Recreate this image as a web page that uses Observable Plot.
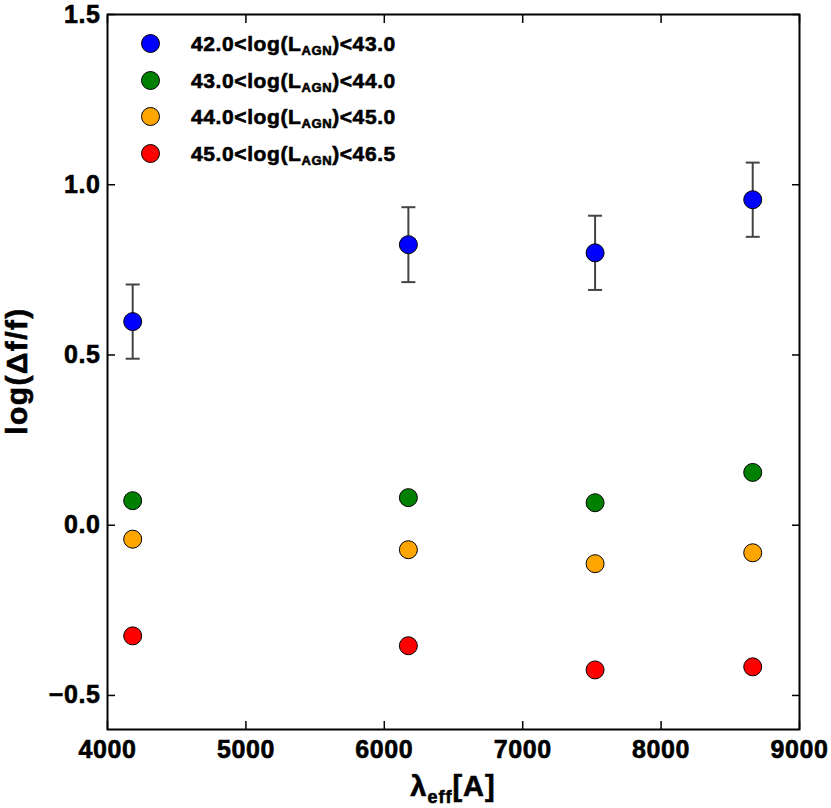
<!DOCTYPE html>
<html>
<head>
<meta charset="utf-8">
<script src="https://cdn.jsdelivr.net/npm/d3@7"></script>
<script src="https://cdn.jsdelivr.net/npm/@observablehq/plot@0.6"></script>
<style>
  html, body { margin: 0; padding: 0; background: white; }
  #wrap { position: relative; width: 831px; height: 808px; font-family: "Liberation Sans", Arial, sans-serif; font-weight: bold; color: black; }
  #wrap svg text { stroke: black; stroke-width: 0.6px; }
  .ov { position: absolute; white-space: nowrap; line-height: 1; -webkit-text-stroke: 0.6px black; }
  .legdot { position: absolute; width: 19px; height: 19px; box-sizing: border-box; border: 1px solid black; border-radius: 50%; }
</style>
</head>
<body>
<div id="wrap"></div>
<script>
// ---- data ----
const lambdaEff = [4182, 6174, 7523, 8662];
const blueVals = [0.598, 0.824, 0.800, 0.956];
const blueErr = [0.109, 0.110, 0.109, 0.109];
const greenVals = [0.072, 0.081, 0.066, 0.155];
const orangeVals = [-0.041, -0.072, -0.113, -0.081];
const redVals = [-0.325, -0.354, -0.425, -0.416];
const lowBounds = ["42.0", "43.0", "44.0", "45.0"];
const highBounds = ["43.0", "44.0", "45.0", "46.5"];
const seriesColors = ["#0000ff", "#008000", "#ffa500", "#ff0000"];
const xTicks = [4000, 5000, 6000, 7000, 8000, 9000];
const yTicks = [-0.5, 0.0, 0.5, 1.0, 1.5];
const xDomain = [4000, 9000];
const yDomain = [-0.6, 1.5];

// ---- table ----
const seriesNames = lowBounds.map((lo, i) => `${lo}<log(L_AGN)<${highBounds[i]}`);
const seriesVals = [blueVals, greenVals, orangeVals, redVals];
const points = [];
seriesVals.forEach((vals, s) => vals.forEach((v, i) => points.push({series: seriesNames[s], lam: lambdaEff[i], v})));
const errRows = blueVals.map((v, i) => ({lam: lambdaEff[i], lo: v - blueErr[i], hi: v + blueErr[i]}));
const errEnds = errRows.flatMap(d => [{lam: d.lam, y: d.lo}, {lam: d.lam, y: d.hi}]);

const capSymbol = {
  draw(context, size) {
    const r = Math.sqrt(size / Math.PI);
    context.moveTo(-r, 0);
    context.lineTo(r, 0);
  }
};

const fmt = d3.format(".1f");

const chart = Plot.plot({
  width: 831,
  height: 808,
  marginTop: 14,
  marginRight: 32,
  marginBottom: 79,
  marginLeft: 107,
  style: "font-family: 'Liberation Sans', Arial, sans-serif; font-size: 25px; font-weight: bold; letter-spacing: 0.6px; color: black; background: white; overflow: visible;",
  x: {domain: xDomain},
  y: {domain: yDomain},
  color: {domain: seriesNames, range: seriesColors},
  marks: [
    Plot.axisX({ticks: xTicks, tickSize: -8, tickPadding: 19, tickFormat: d => String(d), label: null, strokeWidth: 1.5}),
    Plot.axisX({anchor: "top", ticks: xTicks, tickSize: -8, tickFormat: () => "", label: null, strokeWidth: 1.5}),
    Plot.axisY({ticks: yTicks, tickSize: -8, tickPadding: 15, tickFormat: fmt, label: null, strokeWidth: 1.5}),
    Plot.axisY({anchor: "right", ticks: yTicks, tickSize: -8, tickFormat: () => "", label: null, strokeWidth: 1.5}),
    Plot.ruleX(errRows, {x: "lam", y1: "lo", y2: "hi", stroke: "#444", strokeWidth: 2}),
    Plot.dot(errEnds, {x: "lam", y: "y", symbol: capSymbol, r: 7, stroke: "#444", strokeWidth: 2, fill: "none"}),
    Plot.dot(points, {x: "lam", y: "v", fill: "series", stroke: "black", strokeWidth: 1, r: 9}),
    Plot.frame({stroke: "black", strokeWidth: 2})
  ]
});

const wrap = document.getElementById("wrap");
wrap.appendChild(chart);

// y label
const yl = document.createElement("div");
yl.className = "ov";
yl.style.cssText = "left:17px; top:371px; font-size:30px; letter-spacing:1.4px; transform: translate(-50%,-50%) rotate(-90deg);";
yl.textContent = "log(Δf/f)";
wrap.appendChild(yl);

// x label
const xl = document.createElement("div");
xl.className = "ov";
xl.style.cssText = "left:453px; top:772px; font-size:29px; letter-spacing:1px; transform: translateX(-50%);";
xl.innerHTML = 'λ<span style="font-size:18px; vertical-align:-7px;">eff</span>[A]';
wrap.appendChild(xl);

// legend
lowBounds.forEach((lo, i) => {
  const cy = 43.3 + 36.7 * i;
  const dot = document.createElement("div");
  dot.className = "legdot";
  dot.style.left = (150 - 9.5) + "px";
  dot.style.top = (cy - 9.5) + "px";
  dot.style.background = seriesColors[i];
  wrap.appendChild(dot);
  const t = document.createElement("div");
  t.className = "ov";
  t.style.cssText = `left:191px; top:${(50.7 + 36.7 * i - 17.8).toFixed(1)}px; font-size:21px; letter-spacing:0.6px;`;
  t.innerHTML = `${lo}&lt;log(L<span style="font-size:13px; vertical-align:-4px;">AGN</span>)&lt;${highBounds[i]}`;
  wrap.appendChild(t);
});
</script>
</body>
</html>
